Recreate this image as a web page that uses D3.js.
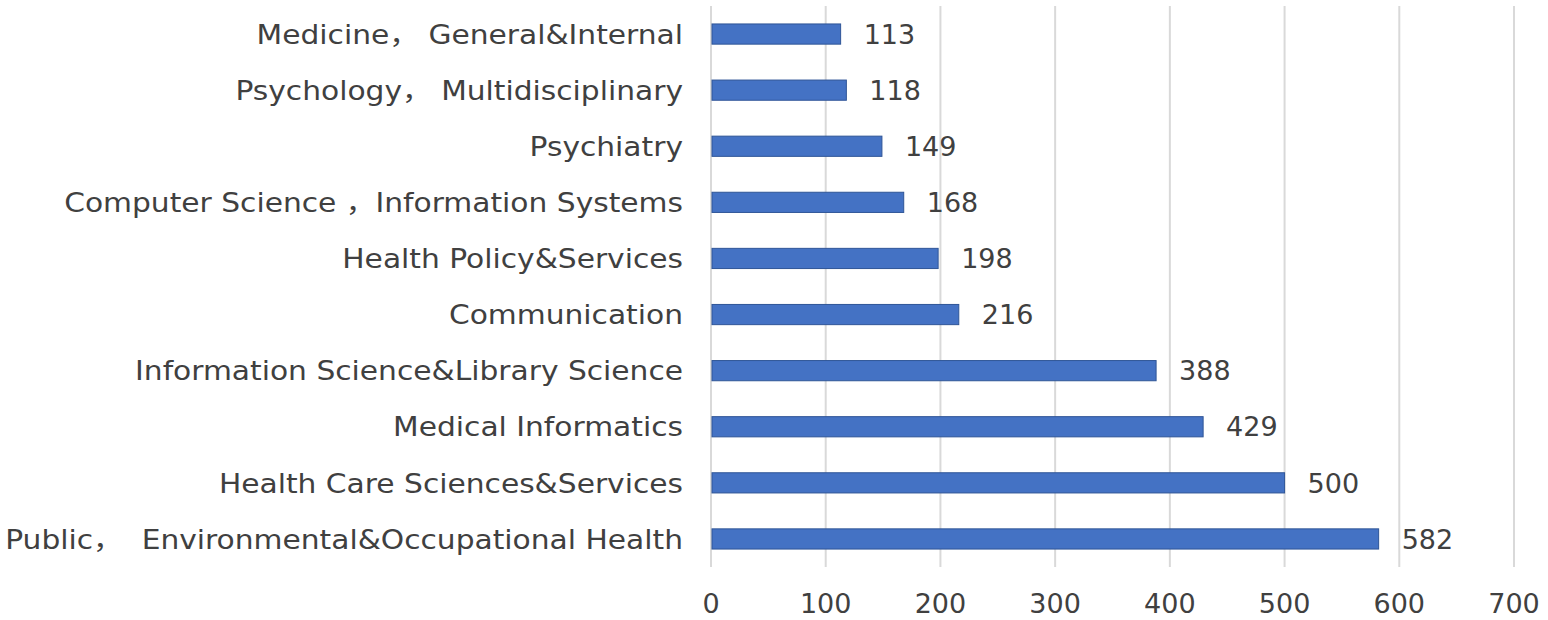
<!DOCTYPE html>
<html><head><meta charset="utf-8">
<script src="https://cdn.jsdelivr.net/npm/d3@7"></script>
<style>body{margin:0;background:#fff;} text{font-family:"DejaVu Sans","Noto Sans CJK SC",sans-serif;white-space:pre;}</style>
</head><body><svg id="c" width="1548" height="620"></svg>
<script>
const categories = ["Medicine， General&Internal","Psychology， Multidisciplinary","Psychiatry","Computer Science ，Information Systems","Health Policy&Services","Communication","Information Science&Library Science","Medical Informatics","Health Care Sciences&Services","Public，  Environmental&Occupational Health"];
const values = [113,118,149,168,198,216,388,429,500,582];
const xTicks = [0,100,200,300,400,500,600,700];

const svg = d3.select("#c");
const x = d3.scaleLinear().domain([0,700]).range([711,1514]);
const y = d3.scaleBand().domain(categories).range([6,567]).paddingInner(0.64).paddingOuter(0.32);

svg.append("g").selectAll("line").data(xTicks).join("line")
  .attr("x1",d=>x(d)).attr("x2",d=>x(d)).attr("y1",6).attr("y2",567)
  .attr("stroke","#d9d9d9").attr("stroke-width",2);

svg.append("g").selectAll("rect").data(values).join("rect")
  .attr("x",x(0)+1).attr("y",(d,i)=>y(categories[i]))
  .attr("width",d=>x(d)-x(0)-1).attr("height",y.bandwidth())
  .attr("fill","#4472c4").attr("stroke","#2f5597").attr("stroke-width",1);

svg.append("g").selectAll("text").data(values).join("text")
  .attr("x",d=>x(d)+23).attr("y",(d,i)=>y(categories[i])+y.bandwidth()/2)
  .attr("dy","0.36em").attr("fill","#404040").attr("font-size",27).text(d=>d);

svg.append("g").selectAll("text").data(categories).join("text")
  .attr("transform",d=>`translate(683,${y(d)+y.bandwidth()/2}) scale(1.1,1)`)
  .attr("dy","0.36em")
  .attr("text-anchor","end").attr("fill","#404040").attr("font-size",27).text(d=>d);

svg.append("g").selectAll("text").data(xTicks).join("text")
  .attr("x",d=>x(d)).attr("y",603).attr("dy","0.36em")
  .attr("text-anchor","middle").attr("fill","#404040").attr("font-size",27).text(d=>d);
</script></body></html>
